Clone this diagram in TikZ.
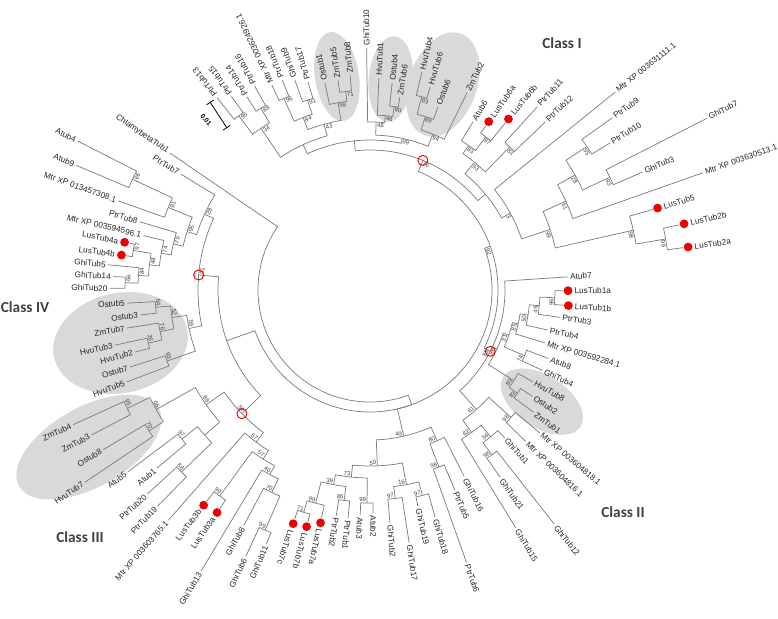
\documentclass[tikz,border=0pt]{standalone}
\usepackage{fontspec}
\setmainfont{Liberation Sans}
\newfontfamily\classfont{Carlito}
\usepackage{xcolor}
\usepackage{tikz}
\definecolor{linegray}{RGB}{125,125,125}
\definecolor{lusred}{RGB}{236,0,0}
\definecolor{cladegray}{RGB}{217,217,217}
\definecolor{classgray}{RGB}{64,64,64}

% polar tree helpers: every point keeps its angle and radius
\newcommand*{\treept}[3]{%
  \coordinate (#1) at ({#2}:{#3});%
  \expandafter\xdef\csname tA#1\endcsname{#2}%
  \expandafter\xdef\csname tR#1\endcsname{#3}}
\newcommand*{\bootlbl}[3]{%
  \ifdim #1pt>180pt\relax
    \ifdim #1pt<360pt\relax
      \node[boot, anchor=south east, rotate=#1+90] at ({#1}:{#2}) {#3};%
    \else
      \node[boot, anchor=north west, rotate=#1-90] at ({#1}:{#2}) {#3};%
    \fi
  \else
    \node[boot, anchor=north west, rotate=#1-90] at ({#1}:{#2}) {#3};%
  \fi}
\newcommand*{\inode}[4]{\treept{#1}{#2}{#3}\bootlbl{#2}{#3}{#4}}
\newcommand*{\leaflbl}[4]{%
  \ifdim #2pt<250pt\relax
    \node[leaf, anchor=east, rotate=#2-180] (#1l) at ({#2}:{#3}) {#4};%
  \else
    \node[leaf, anchor=west, rotate=#2] (#1l) at ({#2}:{#3}) {#4};%
  \fi}
\newcommand*{\leafnode}[4]{\treept{#1}{#2}{#3}\leaflbl{#1}{#2}{#3+1.5}{#4}}
\newcommand*{\lusleaf}[4]{%
  \treept{#1}{#2}{#3-5}%
  \fill[lusred] ({#2}:{#3}) circle[radius=4.4];%
  \leaflbl{#1}{#2}{#3+5.5}{#4}}
\newcommand*{\branchto}[2]{%
  \edef\brA{\csname tA#1\endcsname}\edef\brB{\csname tA#2\endcsname}\edef\brR{\csname tR#1\endcsname}%
  \draw[branch] (#1) arc[start angle=\brA, end angle=\brB, radius=\brR] -- (#2);}
\newcommand*{\cladeshade}[4]{%
  \begin{scope}[shift={(#1:#2)}, rotate=#1]
    \fill[cladegray] (0,0) ellipse[x radius=#3, y radius=#4];
  \end{scope}}

\begin{document}
\begin{tikzpicture}[x=0.75pt, y=0.75pt,
  branch/.style={draw=linegray, line width=0.55pt},
  leaf/.style={font=\fontsize{6.2}{7}\selectfont, inner sep=0.6pt, text=black!85},
  boot/.style={font=\fontsize{4.5}{5}\selectfont, inner sep=0.6pt, text=black!75},
  redring/.style={draw=lusred, line width=0.7pt},
  classlbl/.style={font=\classfont\bfseries\fontsize{11.5}{13}\selectfont, text=classgray}]

\useasboundingbox (-370,-328) rectangle (408,290);

% shaded clades
\cladeshade{458.8}{216}{45}{22}
\cladeshade{444.4}{212}{43}{22}
\cladeshade{430.5}{218}{54}{34}
\cladeshade{327}{205}{46}{26}
\cladeshade{192}{255}{68}{50}
\cladeshade{209.2}{322}{80}{40}

% leaves, left
\leafnode{chl}{145.6}{242}{ChlamybetaTub1}
\leafnode{p7}{148.5}{222}{PtrTub7}
\leafnode{a4}{153}{328}{Atub4}
\leafnode{a9}{157}{319}{Atub9}
\leafnode{m013}{160.5}{267}{Mtr XP 013457308.1}
\leafnode{p8}{163.5}{240}{PtrTub8}
\leafnode{m594}{166.5}{233}{Mtr XP 003594596.1}
\lusleaf{l4a}{169}{250}{LusTub4a}
\lusleaf{l4b}{172}{251}{LusTub4b}
\leafnode{g5}{174.5}{263}{GhiTub5}
\leafnode{g14}{177}{257}{GhiTub14}
\leafnode{g20}{179.6}{260}{GhiTub20}
% class IV
\leafnode{o5}{183.1}{243}{Ostub5}
\leafnode{o3}{186.2}{231}{Ostub3}
\leafnode{z7}{188.9}{246}{ZmTub7}
\leafnode{h3}{192.2}{261}{HvuTub3}
\leafnode{h2}{194.8}{243}{HvuTub2}
\leafnode{o7}{197.8}{252}{Ostub7}
\leafnode{h5}{200.7}{260}{HvuTub5}
% class III
\leafnode{z4}{204.4}{326}{ZmTub4}
\leafnode{z3}{207.5}{314}{ZmTub3}
\leafnode{o8}{210.9}{311}{Ostub8}
\leafnode{h7}{214}{344}{HvuTub7}
\leafnode{a5}{216.9}{303}{Atub5}
\leafnode{a1}{219.9}{278}{Atub1}
\leafnode{p20}{222.5}{302}{PtrTub20}
\leafnode{p19}{225.5}{303}{PtrTub19}
\leafnode{m765}{228.8}{306}{Mtr XP 003603765.1}
\lusleaf{l3b}{232.3}{272}{LusTub3b}
\lusleaf{l3a}{235.5}{270}{LusTub3a}
\leafnode{g13}{239}{328}{GhiTub13}
\leafnode{g8}{241.8}{267}{GhiTub8}
\leafnode{g6}{245}{294}{GhiTub6}
\leafnode{g11}{247.8}{274}{GhiTub11}
% bottom
\lusleaf{l7c}{251.8}{246}{LusTub7c}
\lusleaf{l7b}{255}{245}{LusTub7b}
\lusleaf{l7a}{258}{238}{LusTub7a}
\leafnode{p2}{261.5}{228}{PtrTub2}
\leafnode{p1}{264.5}{229}{PtrTub1}
\leafnode{a3}{267.5}{225}{Atub3}
\leafnode{a2}{270.8}{223}{Atub2}
\leafnode{g2}{274.9}{234}{GhiTub2}
\leafnode{g17}{278.8}{256}{GhiTub17}
\leafnode{g19}{282.5}{222}{GhiTub19}
\leafnode{g18}{286}{236}{GhiTub18}
\leafnode{p6}{289.5}{289}{PtrTub6}
\leafnode{p5}{293}{217}{PtrTub5}
\leafnode{g16}{296.8}{209}{GhiTub16}
% class II
\leafnode{g15}{301.5}{279}{GhiTub15}
\leafnode{g21}{304.8}{228}{GhiTub21}
\leafnode{g12}{308.2}{298}{GhiTub12}
\leafnode{g1}{312.3}{200}{GhiTub1}
\leafnode{m816}{315.8}{217}{Mtr XP 003604816.1}
\leafnode{m818}{319.9}{222}{Mtr XP 003604818.1}
\leafnode{z1}{323.2}{204}{ZmTub1}
\leafnode{o2}{326.8}{194}{Ostub2}
\leafnode{h8}{330.6}{187}{HvuTub8}
\leafnode{g4}{335}{190}{GhiTub4}
\leafnode{a8}{339}{191}{Atub8}
\leafnode{m284}{343.2}{183}{Mtr XP 003592284.1}
\leafnode{p4}{347.3}{182}{PtrTub4}
\leafnode{p3}{351.8}{192}{PtrTub3}
\lusleaf{l1b}{355.5}{199}{LusTub1b}
\lusleaf{l1a}{359.8}{198}{LusTub1a}
\leafnode{a7}{363.8}{198}{Atub7}
% right
\lusleaf{l2a}{367.7}{321}{LusTub2a}
\lusleaf{l2b}{371.9}{321}{LusTub2b}
\lusleaf{l5}{375.9}{299}{LusTub5}
\leafnode{m513}{379.4}{353}{Mtr XP 003630513.1}
\leafnode{g3}{383.4}{297}{GhiTub3}
\leafnode{g7}{387}{378}{GhiTub7}
\leafnode{p10}{391.5}{281}{PtrTub10}
\leafnode{p9}{395.4}{297}{PtrTub9}
\leafnode{m111}{398.9}{315}{Mtr XP 003631111.1}
\leafnode{p12}{403.8}{243}{PtrTub12}
\leafnode{p11}{407.6}{248}{PtrTub11}
\lusleaf{l6b}{411}{220}{LusTub6b}
\lusleaf{l6a}{414.8}{206}{LusTub6a}
\leafnode{a6}{418.5}{197}{Atub6}
% top, class I
\leafnode{z2}{423.8}{220}{ZmTub2}
\leafnode{o6}{429.6}{195}{Ostub6}
\leafnode{h6}{433.5}{212}{HvuTub6}
\leafnode{h4}{436.6}{224}{HvuTub4}
\leafnode{z6}{441.2}{195}{ZmTub6}
\leafnode{o4}{443.9}{208}{Ostub4}
\leafnode{h1}{447.6}{212}{HvuTub1}
\leafnode{g10}{450.8}{242}{GhiTub10}
\leafnode{z8}{455.3}{216}{ZmTub8}
\leafnode{z5}{458.7}{212}{ZmTub5}
\leafnode{o1}{462.3}{212}{Ostub1}
\leafnode{p17}{466.6}{217}{PtrTub17}
\leafnode{g9}{469.7}{223}{GhiTub9}
\leafnode{p18}{472.7}{228}{PtrTub18}
\leafnode{m926}{475.6}{227}{Mtr XP 003624926.1}
\leafnode{p16}{479.5}{234}{PtrTub16}
\leafnode{p14}{482.5}{229}{PtrTub14}
\leafnode{p15}{485.6}{238}{PtrTub15}
\leafnode{p13}{488.5}{246}{PtrTub13}

% inner nodes with bootstrap values
\inode{R0}{217.8}{112}{}
\inode{N1}{290}{122}{}
\inode{NL}{199.5}{152}{}
\inode{NLa}{175}{172}{91}
\inode{n28}{155.4}{182}{28}
\inode{n95a}{162.3}{192}{95}
\inode{n81}{157.75}{218}{81}
\inode{n66a}{155}{262}{66}
\inode{n79}{166.8}{202}{79}
\inode{n74}{170}{212}{74}
\inode{n48}{173.5}{222}{48}
\inode{n97a}{170.5}{240}{97}
\inode{n84}{176.4}{232}{84}
\inode{n66b}{178.3}{245}{66}
\inode{nIV}{192}{185}{59}
\inode{n52}{187.9}{200}{52}
\inode{n64}{184.6}{215}{64}
\inode{n76}{191.2}{214}{76}
\inode{n26}{193.5}{228}{26}
\inode{n93}{199.3}{215}{93}
\inode{NIII}{224}{178}{34}
\inode{n88b}{215}{200}{88}
\inode{n66m}{209.2}{245}{66}
\inode{n95z}{206}{270}{95}
\inode{n70z}{212.5}{262}{70}
\inode{nX}{221.3}{220}{}
\inode{n97x}{218.4}{240}{97}
\inode{n88a}{224}{262}{88}
\inode{n57a}{233.2}{190}{57}
\inode{n57b}{237.7}{200}{57}
\inode{n99l}{233.9}{255}{99}
\inode{n40}{241.5}{210}{40}
\inode{n70g}{244.1}{225}{70}
\inode{n99g}{246.4}{262}{99}
\inode{NB}{283}{150}{49}
\inode{n50}{272.4}{176}{50}
\inode{n73}{264.3}{188}{73}
\inode{n39}{259.4}{198}{39}
\inode{n99b}{255.7}{220}{99}
\inode{n71}{253.4}{232}{71}
\inode{n86b}{263}{212}{86}
\inode{n99c}{269.2}{213}{99}
\inode{n16}{280.6}{198}{16}
\inode{n97c}{276.9}{210}{97}
\inode{n97d}{284.3}{212}{97}
\inode{n80b}{294}{165}{80}
\inode{n98e}{291.3}{190}{98}
\inode{NR}{380}{128}{92}
\inode{NII}{333}{135}{83}
\inode{n61}{311.7}{160}{61}
\inode{n62}{305.5}{175}{62}
\inode{n34}{309.4}{190}{34}
\inode{n98c}{306.5}{205}{98}
\inode{n98d}{317.9}{190}{98}
\inode{n86}{335}{140}{86}
\inode{n80c}{327.8}{170}{80}
\inode{n83b}{325}{180}{83}
\inode{n31}{342}{146}{31}
\inode{n74b}{337}{168}{74}
\inode{n85}{347.1}{152}{85}
\inode{n50b}{351}{160}{50}
\inode{n49b}{354.7}{170}{49}
\inode{n96}{357.6}{185}{96}
\inode{N75}{427.8}{140}{75}
\inode{NRt}{399.7}{150}{}
\inode{n3}{388.7}{160}{3}
\inode{n99e}{378.6}{190}{99}
\inode{n98f}{372.8}{270}{98}
\inode{n99d}{369.8}{300}{99}
\inode{n51}{384.4}{215}{51}
\inode{n28r}{389.3}{235}{28}
\inode{n93c}{385.2}{265}{93}
\inode{n95c}{393.5}{260}{95}
\inode{n93d}{410.7}{165}{93}
\inode{n83c}{405.7}{200}{83}
\inode{n83d}{415.7}{175}{83}
\inode{n97e}{412.9}{192}{97}
\inode{NTop}{456}{150}{}
\inode{n99f}{438}{155}{99}
\inode{n94}{428}{168}{94}
\inode{n89}{432.3}{182}{89}
\inode{n93e}{435}{200}{93}
\inode{n48t}{447.9}{168}{48}
\inode{n46}{445}{175}{46}
\inode{n80d}{442.5}{185}{80}
\inode{nTopL}{474.7}{160}{}
\inode{n43}{465.5}{172}{43}
\inode{n99t}{459.7}{190}{99}
\inode{n71b}{457}{200}{71}
\inode{n84t}{471.2}{185}{84}
\inode{n91}{468.2}{200}{91}
\inode{n96b}{474.2}{210}{96}
\inode{n34b}{484}{195}{34}
\inode{n88t}{481}{212}{88}
\inode{n95d}{487}{218}{95}

% branches
\foreach \src/\dst in {R0/chl, R0/N1, N1/NL, N1/NB, N1/NR,
    NL/NLa, NL/NIII, NLa/n28, NLa/nIV, n28/p7, n28/n95a,
    n95a/n81, n95a/n79, n81/n66a, n81/m013, n66a/a4, n66a/a9,
    n79/p8, n79/n74, n74/m594, n74/n48, n48/n97a, n48/n84,
    n97a/l4a, n97a/l4b, n84/g5, n84/n66b, n66b/g14, n66b/g20,
    nIV/n52, nIV/n93, n52/n64, n52/n76, n64/o5, n64/o3,
    n76/z7, n76/n26, n26/h3, n26/h2, n93/o7, n93/h5,
    NIII/n88b, NIII/n57a, n88b/n66m, n88b/nX, n66m/n95z, n66m/n70z,
    n95z/z4, n95z/z3, n70z/o8, n70z/h7, nX/n97x, nX/n88a,
    n97x/a5, n97x/a1, n88a/p20, n88a/p19, n57a/m765, n57a/n57b,
    n57b/n99l, n57b/n40, n99l/l3b, n99l/l3a, n40/g13, n40/n70g,
    n70g/g8, n70g/n99g, n99g/g6, n99g/g11}
  \branchto{\src}{\dst};
\foreach \src/\dst in {NB/n50, NB/n80b, n50/n73, n50/n16, n73/n39, n73/n99c,
    n39/n99b, n39/n86b, n99b/n71, n99b/l7a, n71/l7c, n71/l7b,
    n86b/p2, n86b/p1, n99c/a3, n99c/a2, n16/n97c, n16/n97d,
    n97c/g2, n97c/g17, n97d/g19, n97d/g18, n80b/n98e, n80b/g16,
    n98e/p6, n98e/p5}
  \branchto{\src}{\dst};
\foreach \src/\dst in {NR/NII, NR/N75, NII/n61, NII/n86, NII/a7,
    n61/n62, n61/n98d, n62/g15, n62/n34, n34/n98c, n34/g1,
    n98c/g21, n98c/g12, n98d/m816, n98d/m818, n86/n80c, n86/n31,
    n80c/h8, n80c/n83b, n83b/z1, n83b/o2, n31/n74b, n31/n85,
    n74b/g4, n74b/a8, n85/m284, n85/n50b, n50b/p4, n50b/n49b,
    n49b/p3, n49b/n96, n96/l1b, n96/l1a}
  \branchto{\src}{\dst};
\foreach \src/\dst in {N75/NRt, N75/NTop, NRt/n3, NRt/n93d, n3/n99e, n3/m111,
    n99e/n98f, n99e/n51, n98f/l5, n98f/n99d, n99d/l2a, n99d/l2b,
    n51/m513, n51/n28r, n28r/n93c, n28r/n95c, n93c/g3, n93c/g7,
    n95c/p10, n95c/p9, n93d/n83c, n93d/n83d, n83c/p12, n83c/p11,
    n83d/n97e, n83d/a6, n97e/l6b, n97e/l6a}
  \branchto{\src}{\dst};
\foreach \src/\dst in {NTop/n99f, NTop/nTopL, n99f/n94, n99f/n48t,
    n94/z2, n94/n89, n89/o6, n89/n93e, n93e/h6, n93e/h4,
    n48t/n46, n48t/g10, n46/n80d, n46/h1, n80d/z6, n80d/o4,
    nTopL/n43, nTopL/n34b, n43/n99t, n43/n84t, n99t/n71b, n99t/o1,
    n71b/z8, n71b/z5, n84t/n91, n84t/n96b, n91/p17, n91/g9,
    n96b/p18, n96b/m926, n34b/n88t, n34b/n95d, n88t/p16, n88t/p14,
    n95d/p15, n95d/p13}
  \branchto{\src}{\dst};

% marked nodes
\foreach \rn in {NLa, NIII, NII, N75}
  \draw[redring] (\rn) circle[radius=5];

% scale bar
\draw[|-|, line width=0.6pt] (-160,188) -- (-143,162);
\node[font=\bfseries\fontsize{5}{6}\selectfont, rotate=-50] (scl) at (-164,170) {0.01};

% class labels
\node[classlbl] (cI) at (192,247) {Class I};
\node[classlbl] (cII) at (253,-222) {Class II};
\node[classlbl] (cIII) at (-290,-247) {Class III};
\node[classlbl] (cIV) at (-345,-17) {Class IV};
\end{tikzpicture}
\end{document}
